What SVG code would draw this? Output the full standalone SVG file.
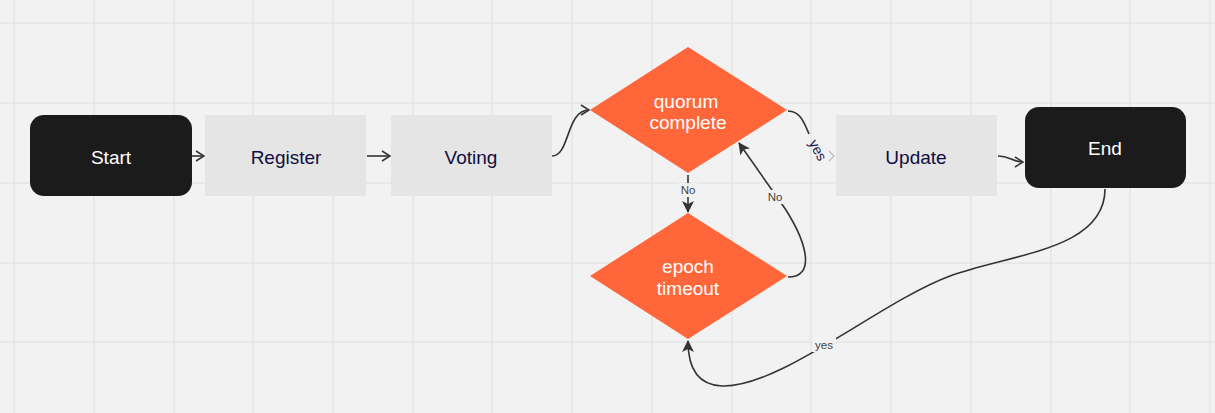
<svg xmlns="http://www.w3.org/2000/svg" width="1215" height="413" viewBox="0 0 1215 413">
<defs>
<style>
.grid line{stroke:#e4e4e4;stroke-width:1.5}
.term{fill:#1b1b1b}
.proc{fill:#e5e5e5}
.dec{fill:#ff673b}
.t{font-family:"Liberation Sans",Arial,sans-serif;font-size:19px;text-anchor:middle;dominant-baseline:central}
.tw{fill:#ffffff}
.tn{fill:#0f0d3f}
.edge{fill:none;stroke:#333333;stroke-width:1.6}
.lbl{font-family:"Liberation Sans",Arial,sans-serif;font-size:11.5px;fill:#444444;text-anchor:middle;dominant-baseline:central}
</style>
<marker id="open" viewBox="0 0 10 12" refX="9" refY="6" markerWidth="10" markerHeight="12" markerUnits="userSpaceOnUse" orient="auto">
<path d="M1,1 L9,6 L1,11" fill="none" stroke="#333333" stroke-width="1.5"/>
</marker>
<marker id="solid" viewBox="0 0 12 12" refX="11" refY="6" markerWidth="12" markerHeight="12" markerUnits="userSpaceOnUse" orient="auto">
<path d="M0,0 L12,6 L0,12 L3,6 Z" fill="#333333"/>
</marker>
</defs>
<rect width="1215" height="413" fill="#f2f2f2"/>
<g class="grid">
<line x1="14" y1="0" x2="14" y2="413"/><line x1="94" y1="0" x2="94" y2="413"/><line x1="174" y1="0" x2="174" y2="413"/><line x1="253" y1="0" x2="253" y2="413"/><line x1="333" y1="0" x2="333" y2="413"/><line x1="413" y1="0" x2="413" y2="413"/><line x1="492" y1="0" x2="492" y2="413"/><line x1="572" y1="0" x2="572" y2="413"/><line x1="652" y1="0" x2="652" y2="413"/><line x1="732" y1="0" x2="732" y2="413"/><line x1="811" y1="0" x2="811" y2="413"/><line x1="891" y1="0" x2="891" y2="413"/><line x1="971" y1="0" x2="971" y2="413"/><line x1="1051" y1="0" x2="1051" y2="413"/><line x1="1130" y1="0" x2="1130" y2="413"/><line x1="1210" y1="0" x2="1210" y2="413"/>
<line x1="0" y1="23" x2="1215" y2="23"/><line x1="0" y1="103" x2="1215" y2="103"/><line x1="0" y1="183" x2="1215" y2="183"/><line x1="0" y1="263" x2="1215" y2="263"/><line x1="0" y1="342" x2="1215" y2="342"/>
</g>
<g id="connectors">
<path class="edge" d="M192,156 L204,156" marker-end="url(#open)"/>
<path class="edge" d="M367,156 L390,156" marker-end="url(#open)"/>
<path class="edge" d="M552,156 C570,156 566,110 589,110" marker-end="url(#open)"/>
<path class="edge" d="M788,111 C800,111 804,122 809,134"/>
<path d="M829,151 L834,156 L829,161" fill="none" stroke="#b8b8b8" stroke-width="1.1"/>
<text x="818" y="150" transform="rotate(62 818 150)" font-family="'Liberation Sans',Arial,sans-serif" font-size="14" fill="#1a1850" text-anchor="middle" dominant-baseline="central">yes</text>
<path class="edge" d="M998,156 C1010,156 1012,162 1023,162" marker-end="url(#open)"/>
<path class="edge" d="M688,175 L688,212" marker-end="url(#solid)"/>
<rect x="678" y="183" width="20" height="14" fill="#f2f2f2"/>
<text class="lbl" x="688" y="190">No</text>
<path class="edge" d="M788,277 C815,277 808,245 786,210 L739,143" marker-end="url(#solid)"/>
<rect x="764" y="190" width="22" height="14" fill="#f2f2f2"/>
<text class="lbl" x="775" y="197">No</text>
<path class="edge" d="M1105,189 C1105,250 1010,254 950,276 C880,302 780,388 722,386 C696,385 688,366 688,341" marker-end="url(#solid)"/>
<rect x="812" y="337" width="24" height="15" fill="#f2f2f2"/>
<text class="lbl" x="824" y="345">yes</text>
</g>
<g id="start">
<rect class="term" x="30" y="115" width="162" height="81" rx="14"/>
<text class="t tw" x="111" y="157">Start</text>
</g>
<g id="register">
<rect class="proc" x="205" y="115" width="161" height="81"/>
<text class="t tn" x="286" y="157">Register</text>
</g>
<g id="voting">
<rect class="proc" x="391" y="115" width="161" height="81"/>
<text class="t tn" x="471" y="157">Voting</text>
</g>
<g id="quorum">
<polygon class="dec" points="590,110 688,47 787,110 688,173"/>
<text class="t tw" x="686" y="101">quorum</text>
<text class="t tw" x="688" y="122">complete</text>
</g>
<g id="epoch">
<polygon class="dec" points="590,276 688,213 787,276 688,339"/>
<text class="t tw" x="688" y="266">epoch</text>
<text class="t tw" x="688" y="288">timeout</text>
</g>
<g id="update">
<rect class="proc" x="836" y="115" width="161" height="81"/>
<text class="t tn" x="916" y="157">Update</text>
</g>
<g id="end">
<rect class="term" x="1025" y="107" width="161" height="81" rx="14"/>
<text class="t tw" x="1105" y="148">End</text>
</g>
</svg>
